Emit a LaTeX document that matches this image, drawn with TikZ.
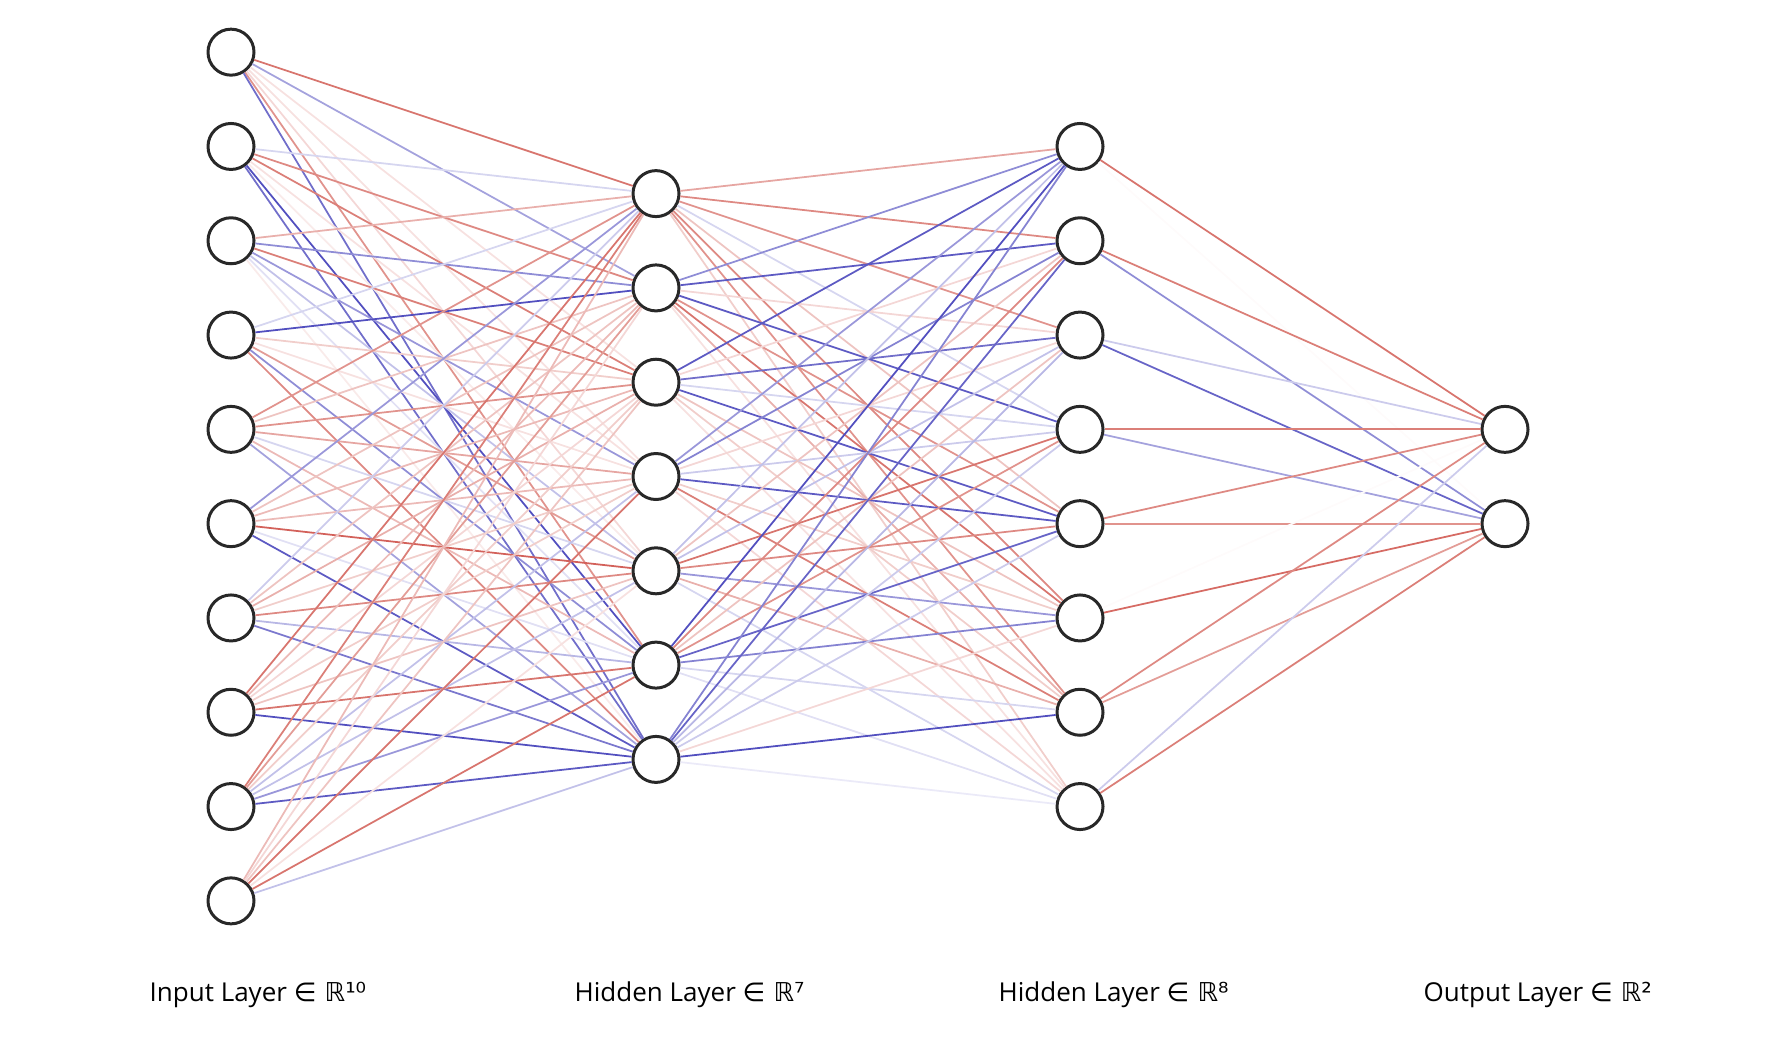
\documentclass[tikz,border=0pt]{standalone}
\usepackage{fontspec}
\setmainfont{Open Sans}
\newfontfamily\symfont{DejaVu Sans}
\usepackage{xcolor}
\usepackage{tikz}

\definecolor{pos}{RGB}{200,58,48}
\definecolor{neg}{RGB}{52,48,180}
\definecolor{rim}{RGB}{40,40,40}

\tikzset{
  neuron/.style={circle,draw=rim,line width=0.85pt,minimum size=0.46cm,inner sep=0pt},
  wire/.style={line width=0.5pt},
  caption/.style={anchor=base west,inner sep=0pt,font=\fontsize{7.4}{9}\selectfont}
}

% draws one weighted connection, #3 in percent
\newcommand{\synapse}[3]{%
  \pgfmathtruncatemacro{\amt}{abs(#3)}%
  \ifnum#3<0
    \draw[wire,neg!\amt!white] (#1) -- (#2);
  \else
    \draw[wire,pos!\amt!white] (#1) -- (#2);
  \fi}

\begin{document}
\begin{tikzpicture}
    \useasboundingbox (0,0) rectangle (17.76,10.38);

    % layers
    \foreach \k in {1,...,10} \node[neuron] (in\k) at (2.31,{5.615+0.943*(5.5-\k)}) {};
    \foreach \k in {1,...,7} \node[neuron] (ha\k) at (6.56,{5.615+0.943*(4-\k)}) {};
    \foreach \k in {1,...,8} \node[neuron] (hb\k) at (10.80,{5.615+0.943*(4.5-\k)}) {};
    \foreach \k in {1,2} \node[neuron] (out\k) at (15.05,{5.615+0.943*(1.5-\k)}) {};

    % input -> first hidden
    \foreach \s/\ws in {1/{70,-45,15,15,20,55,-70},
                        2/{-20,60,65,15,10,-85,-70},
                        3/{40,-55,65,-50,-30,-15,10},
                        4/{-20,-85,25,15,50,-55,60},
                        5/{55,30,55,45,-20,35,-45},
                        6/{-50,30,35,35,80,-15,-80},
                        7/{-25,30,40,25,60,-35,-65},
                        8/{70,35,20,25,30,70,-85},
                        9/{65,50,25,-30,-30,-50,-80},
                        10/{35,20,30,70,15,70,-30}}
        \foreach \w [count=\t] in \ws {\synapse{in\s}{ha\t}{\w}}

    % first hidden -> second hidden
    \foreach \s/\ws in {1/{45,60,55,-20,30,60,55,25},
                        2/{-55,-80,20,-80,55,70,40,15},
                        3/{-80,20,-70,-20,-80,30,25,15},
                        4/{-50,-60,20,-25,-80,25,65,20},
                        5/{-30,30,-30,70,60,-50,40,-20},
                        6/{-85,60,30,55,-75,-60,-20,-15},
                        7/{-60,-75,-35,-25,-25,20,-85,-10}}
        \foreach \w [count=\t] in \ws {\synapse{ha\s}{hb\t}{\w}}

    % second hidden -> output
    \foreach \s/\ws in {1/{70,2},2/{65,-55},3/{-25,-75},4/{65,-45},
                        5/{60,55},6/{2,75},7/{60,50},8/{-25,65}}
        \foreach \w [count=\t] in \ws {\synapse{hb\s}{out\t}{\w}}

    % captions
    \node[caption] (capin) at (1.49,0.363) {Input Layer {\symfont ∈ ℝ¹⁰}};
    \node[caption] (capha) at (5.74,0.363) {Hidden Layer {\symfont ∈ ℝ⁷}};
    \node[caption] (caphb) at (9.98,0.363) {Hidden Layer {\symfont ∈ ℝ⁸}};
    \node[caption] (capout) at (14.23,0.363) {Output Layer {\symfont ∈ ℝ²}};
\end{tikzpicture}
\end{document}
